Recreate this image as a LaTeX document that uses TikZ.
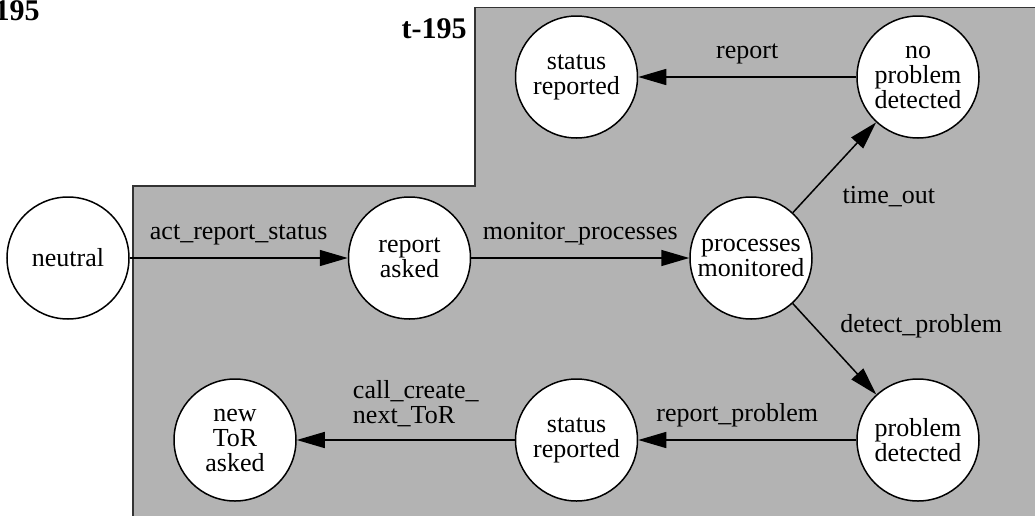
\documentclass[tikz,border=0pt]{standalone}
\usepackage{fontspec}
\setmainfont{Liberation Serif}
\usetikzlibrary{arrows.meta,positioning}
\definecolor{clustergray}{RGB}{179,179,179}

\begin{document}
\begin{tikzpicture}[
  x=0.5pt, y=-0.5pt,
  font=\fontsize{13}{12.5}\selectfont,
  node distance=109pt and 109pt,
  state/.style={circle, draw, fill=white, line width=0.75pt, minimum size=61pt, inner sep=0pt, align=center},
  lbl/.style={inner sep=0pt, align=left},
  ttl/.style={inner sep=0pt, anchor=base east, font=\fontsize{15}{15}\selectfont\bfseries},
  arr/.style={-{Triangle[length=14pt,width=8pt]}, line width=0.75pt}
]
\useasboundingbox (0,0) rectangle (1035,515);
% cluster t-195
\fill[clustergray] (133,186) -- (475,186) -- (475,7.5) -- (1045,7.5) -- (1045,525) -- (133,525) -- cycle;
\draw[black!80, line width=0.8pt] (133,525) -- (133,186) -- (475,186) -- (475,7.5) -- (1045,7.5);
\node[ttl] (cut) at (40,20) {t-195};
\node[ttl] (clname) at (467,38) {t-195};

\node[state] (neutral) at (68,258) {neutral};
\node[state, right=of neutral] (asked) {report\\asked};
\node[state, right=of asked] (mon) {processes\\monitored};
\node[state] (nopb) at (918,77) {no\\problem\\detected};
\node[state, left=of nopb] (stat1) {status\\reported};
\node[state] (prob) at (918,440) {problem\\detected};
\node[state, left=of prob] (stat2) {status\\reported};
\node[state, left=of stat2] (newtor) {new\\ToR\\asked};

\draw[arr] (neutral) -- node[lbl, above=6pt] {act\_report\_status} (asked);
\draw[arr] (asked) -- node[lbl, above=6pt] {monitor\_processes} (mon);
\draw[arr] (mon) -- node[lbl, pos=0.18, anchor=west, xshift=17pt] {time\_out} (nopb);
\draw[arr] (mon) -- node[lbl, pos=0.25, anchor=west, xshift=13pt] {detect\_problem} (prob);
\draw[arr] (nopb) -- node[lbl, above=6pt] {report} (stat1);
\draw[arr] (prob) -- node[lbl, above=6pt, xshift=-5pt] {report\_problem} (stat2);
\draw[arr] (stat2) -- node[lbl, above=6pt, xshift=5pt] {call\_create\_\\next\_ToR} (newtor);
\end{tikzpicture}
\end{document}
